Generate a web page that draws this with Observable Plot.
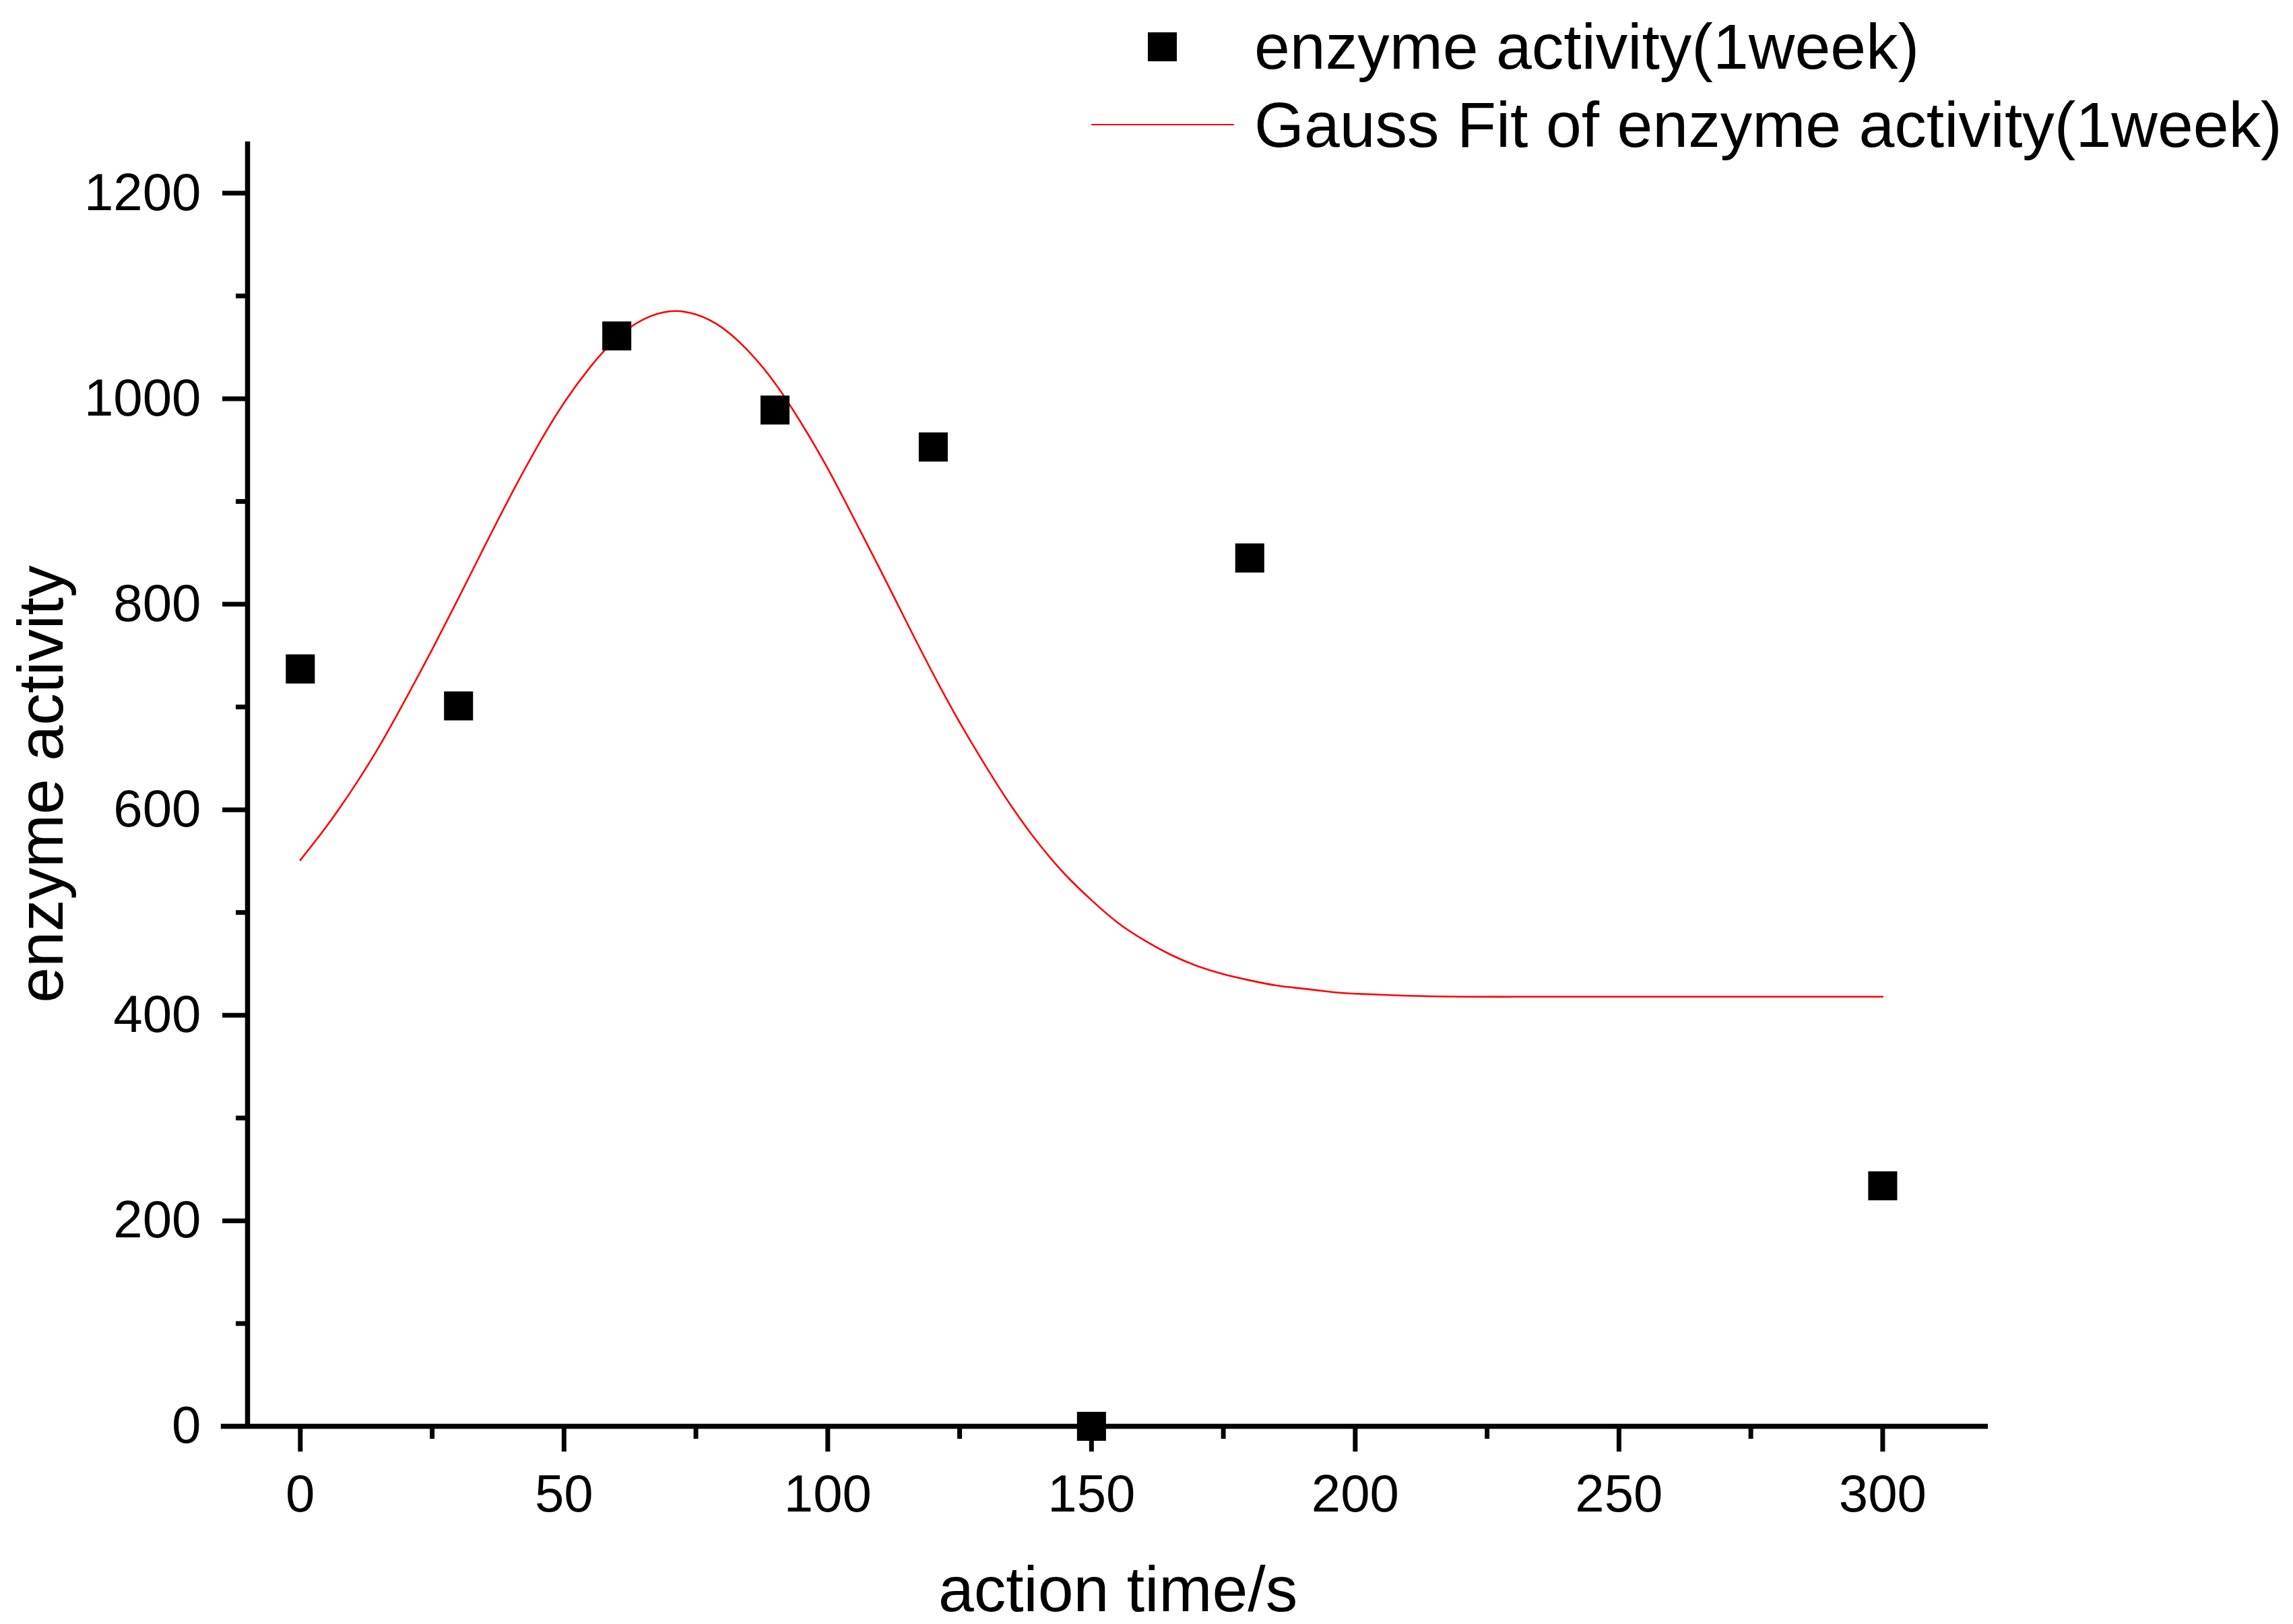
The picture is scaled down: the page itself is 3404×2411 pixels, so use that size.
<!DOCTYPE html>
<html>
<head>
<meta charset="utf-8">
<script src="https://cdn.jsdelivr.net/npm/d3@7"></script>
<script src="https://cdn.jsdelivr.net/npm/@observablehq/plot@0.6"></script>
<style>
  html, body { margin: 0; padding: 0; background: #fff; }
  #wrap { position: relative; width: 3404px; height: 2411px; font-family: "Liberation Sans", Arial, sans-serif; }
  #wrap svg { display: block; }
  .leg { position: absolute; }
  .legtext { position: absolute; font-size: 95px; line-height: 1; white-space: nowrap; color: #000; }
</style>
</head>
<body>
<div id="wrap"></div>
<script>
// Measured data (action time in s, enzyme activity)
const times = [0, 30, 60, 90, 120, 150, 180, 300];
const activity = [737, 701, 1061, 989, 953, 0, 845, 234];

// Gauss fit curve
const fitTimes = [0, 5, 10, 15, 20, 25, 30, 35, 40, 45, 50, 55, 60, 65, 70, 75, 80, 85, 90, 95, 100, 105, 110, 115, 120, 125, 130, 135, 140, 145, 150, 155, 160, 165, 170, 175, 180, 185, 190, 195, 200, 210, 220, 230, 240, 250, 260, 270, 280, 290, 300];
const fitValues = [551, 584, 621, 662, 708, 756, 806, 857, 907, 954, 996, 1031, 1059, 1077, 1085, 1082, 1069, 1046, 1015, 976, 932, 883, 833, 782, 732, 685, 642, 602, 567, 537, 512, 490, 473, 459, 448, 440, 434, 429, 426, 423, 421, 419, 418, 418, 418, 418, 418, 418, 418, 418, 418];

// Axis ticks
const xTicks = [0, 50, 100, 150, 200, 250, 300];
const xMinor = [25, 75, 125, 175, 225, 275];
const yTicks = [0, 200, 400, 600, 800, 1000, 1200];
const yMinor = [100, 300, 500, 700, 900, 1100];

const xDomain = [-10, 320];
const yDomain = [0, 1250];
const xAxisStart = -15;

const seriesName = "enzyme activity(1week)";
const fitName = "Gauss Fit of enzyme activity(1week)";
const xLabel = "action time/s";
const yLabel = "enzyme activity";

const points = times.map((t, i) => ({t, v: activity[i]}));
const fit = fitTimes.map((t, i) => ({t, v: fitValues[i]}));

const chart = Plot.plot({
  width: 3404,
  height: 2411,
  marginLeft: 367,
  marginRight: 453,
  marginTop: 210,
  marginBottom: 294,
  style: {fontFamily: "'Liberation Sans', Arial, sans-serif", background: "#fff", color: "#000"},
  x: {domain: xDomain},
  y: {domain: yDomain},
  marks: [
    Plot.axisY(yTicks, {tickSize: 37, tickPadding: 32, fontSize: 78, strokeWidth: 7, tickFormat: d3.format("d"), label: null}),
    Plot.axisY(yMinor, {tickSize: 17, text: null, strokeWidth: 7, label: null}),
    Plot.axisX(xTicks, {tickSize: 38, tickPadding: 33, fontSize: 78, strokeWidth: 7, tickFormat: d3.format("d"), label: null}),
    Plot.axisX(xMinor, {tickSize: 19, text: null, strokeWidth: 7, label: null}),
    Plot.ruleX([xDomain[0]], {y1: yDomain[0], y2: yDomain[1], strokeWidth: 7.5, stroke: "#000"}),
    Plot.ruleY([0], {x1: xAxisStart, x2: xDomain[1], strokeWidth: 7.5, stroke: "#000"}),
    Plot.line(fit, {x: "t", y: "v", stroke: "#ff0000", strokeWidth: 2.6, curve: "natural"}),
    Plot.dot(points, {x: "t", y: "v", symbol: "square", r: 24.3, fill: "#000", stroke: "none"}),
    Plot.text([xLabel], {frameAnchor: "bottom", dy: 274, lineAnchor: "bottom", fontSize: 95, fill: "#000"}),
    Plot.text([yLabel], {frameAnchor: "left", dx: -275, rotate: -90, textAnchor: "middle", lineAnchor: "bottom", fontSize: 95, fill: "#000"})
  ]
});

const wrap = document.getElementById("wrap");
wrap.appendChild(chart);

// Legend (top right)
function el(cls, css, text) {
  const d = document.createElement("div");
  d.className = cls;
  Object.assign(d.style, css);
  if (text) d.textContent = text;
  wrap.appendChild(d);
  return d;
}
el("leg", {left: "1704px", top: "48px", width: "43px", height: "43px", background: "#000"});
el("legtext", {left: "1862px", top: "22px"}, seriesName);
el("leg", {left: "1620px", top: "183.5px", width: "212px", height: "2.6px", background: "#ff0000"});
el("legtext", {left: "1862px", top: "138px"}, fitName);
</script>
</body>
</html>
